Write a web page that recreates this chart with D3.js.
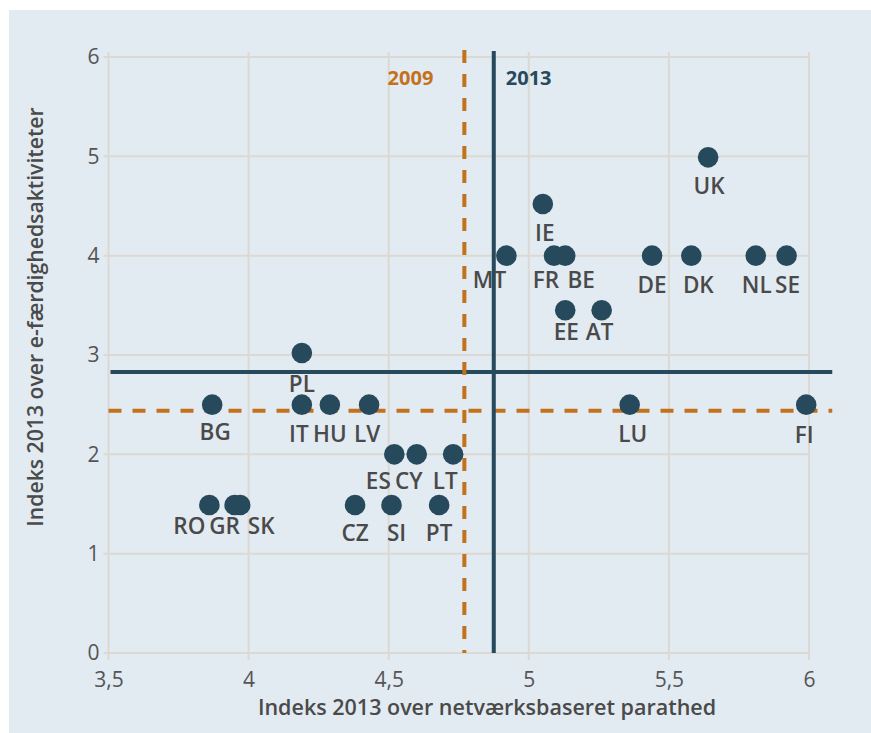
<!DOCTYPE html>
<html>
<head>
<meta charset="utf-8">
<script src="https://cdn.jsdelivr.net/npm/d3@7"></script>
<style>
  body { margin: 0; background: #fff; }
  svg text { font-family: "Open Sans", sans-serif; }
</style>
</head>
<body>
<div id="chart"></div>
<script>
// Data: netværksbaseret parathed (x) vs e-færdighedsaktiviteter (y), 2013
const countries = ["PL", "BG", "IT", "HU", "LV", "ES", "CY", "LT", "RO", "GR", "SK", "CZ", "SI", "PT",
  "UK", "IE", "MT", "FR", "BE", "DE", "DK", "NL", "SE", "EE", "AT", "LU", "FI"];
const networkIndex = [4.19, 3.87, 4.19, 4.29, 4.43, 4.52, 4.6, 4.73, 3.86, 3.95, 3.97, 4.38, 4.51, 4.68,
  5.64, 5.05, 4.92, 5.09, 5.13, 5.44, 5.58, 5.81, 5.92, 5.13, 5.26, 5.36, 5.99];
const skillsIndex = [3.02, 2.5, 2.5, 2.5, 2.5, 2, 2, 2, 1.49, 1.49, 1.49, 1.49, 1.49, 1.49,
  4.99, 4.52, 4.0, 4.0, 4.0, 4.0, 4.0, 4.0, 4.0, 3.45, 3.45, 2.5, 2.5];

// EU-gennemsnit
const refYears = ["2009", "2013"];
const refX = [4.77, 4.875];
const refY = [2.44, 2.83];

const xTicks = [3.5, 4, 4.5, 5, 5.5, 6];
const yTicks = [0, 1, 2, 3, 4, 5, 6];

// label nudges (px) so the country codes don't overlap
const labelNudge = {
  PL: [0, 39], BG: [3, 35], IT: [-3, 37], HU: [0, 37], LV: [-2, 37],
  ES: [-16, 35], CY: [-8, 35], LT: [-8, 35], RO: [-20, 29], GR: [-10, 29], SK: [21, 29],
  CZ: [0, 36], SI: [5, 36], PT: [0, 36], UK: [1, 37], IE: [2, 37],
  MT: [-17, 32], FR: [-8, 32], BE: [16, 32], DE: [0, 37], DK: [7, 37], NL: [1, 37], SE: [1, 37],
  EE: [1, 30], AT: [-2, 30], LU: [3, 37], FI: [-2, 38]
};

const width = 871, height = 733;
const teal = "#27495c", orange = "#c2721b", grid = "#dbd9d1", textCol = "#4a4a4a";

const svg = d3.select("#chart").append("svg")
  .attr("width", width).attr("height", height);

// baggrund
svg.append("rect").attr("x", 9).attr("y", 10)
  .attr("width", width - 9).attr("height", height - 10)
  .attr("fill", "#e2eaf2");

const x = d3.scaleLinear().domain([3.5, 6]).range([108.5, 809]);
const y = d3.scaleLinear().domain([0, 6]).range([653, 57]);

// gitterlinjer
svg.append("g").selectAll("line").data(xTicks).join("line")
  .attr("x1", d => x(d)).attr("x2", d => x(d))
  .attr("y1", y(6) - 5).attr("y2", y(0) + 7)
  .attr("stroke", grid).attr("stroke-width", 2);

svg.append("g").selectAll("line").data(yTicks).join("line")
  .attr("x1", x(3.5) - 5).attr("x2", x(6) + 1)
  .attr("y1", d => y(d)).attr("y2", d => y(d))
  .attr("stroke", grid).attr("stroke-width", 2);

// akser (kun tekst)
const xAxis = svg.append("g").attr("transform", `translate(0,${y(0)})`)
  .call(d3.axisBottom(x).tickValues(xTicks).tickSize(0).tickPadding(19)
    .tickFormat(d => String(d).replace(".", ",")));
xAxis.select(".domain").remove();
xAxis.selectAll("text").attr("font-size", 21).attr("fill", "#555")
  .style("font-family", "'Open Sans', sans-serif");

const yAxis = svg.append("g").attr("transform", `translate(${x(3.5)},0)`)
  .call(d3.axisLeft(y).tickValues(yTicks).tickSize(0).tickPadding(9).tickFormat(d3.format("d")));
yAxis.select(".domain").remove();
yAxis.selectAll("text").attr("font-size", 21).attr("fill", "#555")
  .style("font-family", "'Open Sans', sans-serif");

// referencelinjer
const xEnd = 6.083;
svg.append("line")
  .attr("x1", x(3.5)).attr("x2", x(xEnd)).attr("y1", y(refY[0])).attr("y2", y(refY[0]))
  .attr("stroke", orange).attr("stroke-width", 4).attr("stroke-dasharray", "13,11");
svg.append("line")
  .attr("x1", x(3.5) + 2).attr("x2", x(xEnd)).attr("y1", y(refY[1])).attr("y2", y(refY[1]))
  .attr("stroke", teal).attr("stroke-width", 4);
svg.append("line")
  .attr("x1", x(refX[0])).attr("x2", x(refX[0])).attr("y1", y(6) - 7).attr("y2", y(0))
  .attr("stroke", orange).attr("stroke-width", 4).attr("stroke-dasharray", "13,11");
svg.append("line")
  .attr("x1", x(refX[1])).attr("x2", x(refX[1])).attr("y1", y(6) - 6).attr("y2", y(0))
  .attr("stroke", teal).attr("stroke-width", 4);

svg.append("text").attr("x", x(refX[0]) - 31).attr("y", 85)
  .attr("text-anchor", "end").attr("font-size", 20).attr("font-weight", 700)
  .attr("fill", orange).text(refYears[0]);
svg.append("text").attr("x", x(refX[1]) + 12).attr("y", 85)
  .attr("text-anchor", "start").attr("font-size", 20).attr("font-weight", 700)
  .attr("fill", teal).text(refYears[1]);

// punkter
const pts = countries.map((c, i) => ({ code: c, nx: networkIndex[i], sy: skillsIndex[i] }));

svg.append("g").selectAll("circle").data(pts).join("circle")
  .attr("cx", d => x(d.nx)).attr("cy", d => y(d.sy))
  .attr("r", 10.3).attr("fill", teal);

svg.append("g").selectAll("text").data(pts).join("text")
  .attr("x", d => x(d.nx) + labelNudge[d.code][0])
  .attr("y", d => y(d.sy) + labelNudge[d.code][1])
  .attr("text-anchor", "middle")
  .attr("font-size", 22.5).attr("font-weight", 600)
  .attr("fill", textCol)
  .text(d => d.code);

// aksetitler
svg.append("text").attr("x", 487).attr("y", 715)
  .attr("text-anchor", "middle").attr("font-size", 21.5).attr("font-weight", 600)
  .attr("fill", textCol).text("Indeks 2013 over netværksbaseret parathed");

svg.append("text").attr("transform", "translate(43,317) rotate(-90)")
  .attr("text-anchor", "middle").attr("font-size", 21.2).attr("font-weight", 600)
  .attr("fill", textCol).text("Indeks 2013 over e-færdighedsaktiviteter");
</script>
</body>
</html>
